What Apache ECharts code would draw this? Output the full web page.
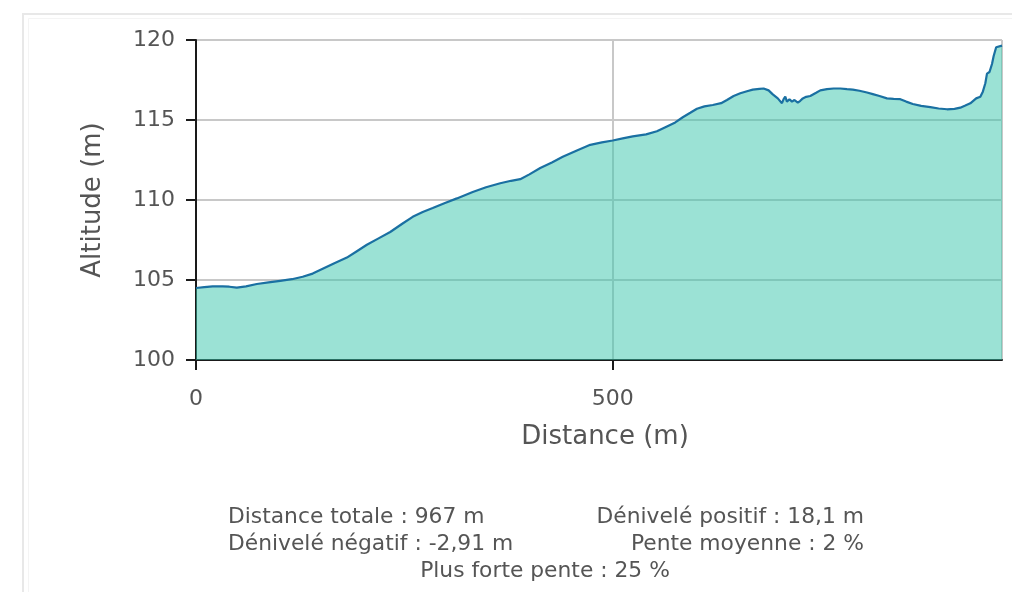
<!DOCTYPE html>
<html>
<head>
<meta charset="utf-8">
<title>Profil altimétrique</title>
<script src="https://cdn.jsdelivr.net/npm/echarts@6.0.0/dist/echarts.min.js"></script>
<style>
  html, body { margin: 0; padding: 0; background: #ffffff; }
  #chart { width: 1012px; height: 592px; }
</style>
</head>
<body>
<div id="chart"></div>
<script>
// Profile samples: distance along the track (m) and altitude (m)
const distances = [
  0, 10, 20, 32, 40, 49, 60, 73, 87, 101, 115, 128, 140, 152, 166, 181, 193, 205,
  219, 233, 247, 260, 272, 284, 298, 313, 332, 348, 365, 378, 389, 400, 413, 427,
  440, 457, 473, 487, 500, 512, 524, 540, 553, 565, 575, 584, 593, 601, 610, 620,
  630, 637, 645, 653, 661, 668, 676, 681, 687, 692, 698, 703, 705, 707, 709, 712,
  715, 718, 722, 725, 728, 732, 737, 744, 749, 757, 765, 773, 781, 788, 796, 805,
  812, 820, 829, 837, 845, 852, 860, 870, 881, 891, 901, 910, 917, 923, 929, 936,
  941, 944, 947, 949, 952, 955, 957, 960, 962, 967
];
const altitudes = [
  104.5, 104.55, 104.6, 104.6, 104.58, 104.52, 104.6, 104.75, 104.85, 104.95, 105.05, 105.2, 105.4, 105.7, 106.05, 106.4, 106.8, 107.2,
  107.6, 108.0, 108.5, 108.95, 109.25, 109.5, 109.8, 110.1, 110.5, 110.8, 111.05, 111.2, 111.3, 111.6, 112.0, 112.35,
  112.7, 113.1, 113.45, 113.6, 113.72, 113.85, 113.98, 114.1, 114.3, 114.6, 114.85, 115.17, 115.45, 115.7, 115.85, 115.94,
  116.05, 116.25, 116.5, 116.67, 116.8, 116.9, 116.95, 116.97, 116.85, 116.6, 116.35, 116.05, 116.3, 116.46, 116.15, 116.3,
  116.15, 116.25, 116.08, 116.2, 116.35, 116.45, 116.5, 116.7, 116.85, 116.93, 116.97, 116.97, 116.93, 116.9, 116.83, 116.72,
  116.62, 116.5, 116.35, 116.32, 116.3, 116.15, 116.0, 115.88, 115.8, 115.72, 115.67, 115.7, 115.77, 115.9, 116.04, 116.35,
  116.45, 116.77, 117.3, 117.9, 118.0, 118.5, 119.0, 119.55, 119.65, 119.65
];

// Axis settings
const distanceMax = 967;
const distanceStep = 500;
const altitudeMin = 100;
const altitudeMax = 120;
const altitudeStep = 5;
const xTitle = 'Distance (m)';
const yTitle = 'Altitude (m)';

// Summary lines under the profile
const statsLeft = ['Distance totale : 967 m', 'Dénivelé négatif : -2,91 m'];
const statsRight = ['Dénivelé positif : 18,1 m', 'Pente moyenne : 2 %'];
const statsCenter = ['Plus forte pente : 25 %'];

const FONT = "'DejaVu Sans', Verdana, sans-serif";
const textGray = '#555555';
const statsFont = '21.8px ' + FONT;

const points = distances.map((d, i) => [d, altitudes[i]]);

const statsGraphics = [];
const rowY = [517, 544, 571];
function statText(t, x, y, align) {
  return {
    type: 'text', x: x, y: y, silent: true,
    style: { text: t, font: statsFont, fill: textGray, align: align, verticalAlign: 'middle' }
  };
}
statsLeft.forEach((t, i) => statsGraphics.push(statText(t, 228, rowY[i], 'left')));
statsRight.forEach((t, i) => statsGraphics.push(statText(t, 864, rowY[i], 'right')));
statsCenter.forEach((t) => statsGraphics.push(statText(t, 545, rowY[2], 'center')));

const chart = echarts.init(document.getElementById('chart'), null, { renderer: 'canvas' });
chart.setOption({
  backgroundColor: '#ffffff',
  animation: false,
  graphic: [
    { type: 'rect', z: -10, silent: true,
      shape: { x: 23, y: 14, width: 1200, height: 800 },
      style: { fill: 'none', stroke: '#e8e8e8', lineWidth: 2 } },
    { type: 'rect', z: -10, silent: true,
      shape: { x: 28.5, y: 18.5, width: 1200, height: 800 },
      style: { fill: 'none', stroke: '#f4f4f4', lineWidth: 1 } }
  ].concat(statsGraphics),
  grid: { left: 196, right: 10, top: 40, bottom: 232, containLabel: false },
  xAxis: {
    type: 'value',
    min: 0,
    max: distanceMax,
    interval: distanceStep,
    name: xTitle,
    nameLocation: 'middle',
    nameGap: 64,
    nameTextStyle: { fontFamily: FONT, fontSize: 26, color: textGray, padding: [0, 0, 0, 12] },
    axisLine: { show: true, lineStyle: { color: '#1a1a1a', width: 2 } },
    axisTick: { show: true, length: 10, lineStyle: { color: '#1a1a1a', width: 2 } },
    axisLabel: {
      margin: 28, fontFamily: FONT, fontSize: 22, color: textGray,
      showMaxLabel: false
    },
    splitLine: { show: true, lineStyle: { color: '#c8c8c8', width: 2 } }
  },
  yAxis: {
    type: 'value',
    min: altitudeMin,
    max: altitudeMax,
    interval: altitudeStep,
    name: yTitle,
    nameLocation: 'middle',
    nameGap: 90,
    nameTextStyle: { fontFamily: FONT, fontSize: 26, color: textGray },
    axisLine: { show: true, lineStyle: { color: '#1a1a1a', width: 2 } },
    axisTick: { show: true, length: 10, lineStyle: { color: '#1a1a1a', width: 2 } },
    axisLabel: { margin: 21, fontFamily: FONT, fontSize: 22, color: textGray },
    splitLine: { show: true, lineStyle: { color: '#c8c8c8', width: 2 } }
  },
  series: [{
    type: 'line',
    data: points,
    symbol: 'none',
    smooth: false,
    lineStyle: { color: '#1a70a2', width: 2.2 },
    areaStyle: { color: 'rgb(55,197,171)', opacity: 0.5, origin: 'start' }
  }]
});
</script>
</body>
</html>
